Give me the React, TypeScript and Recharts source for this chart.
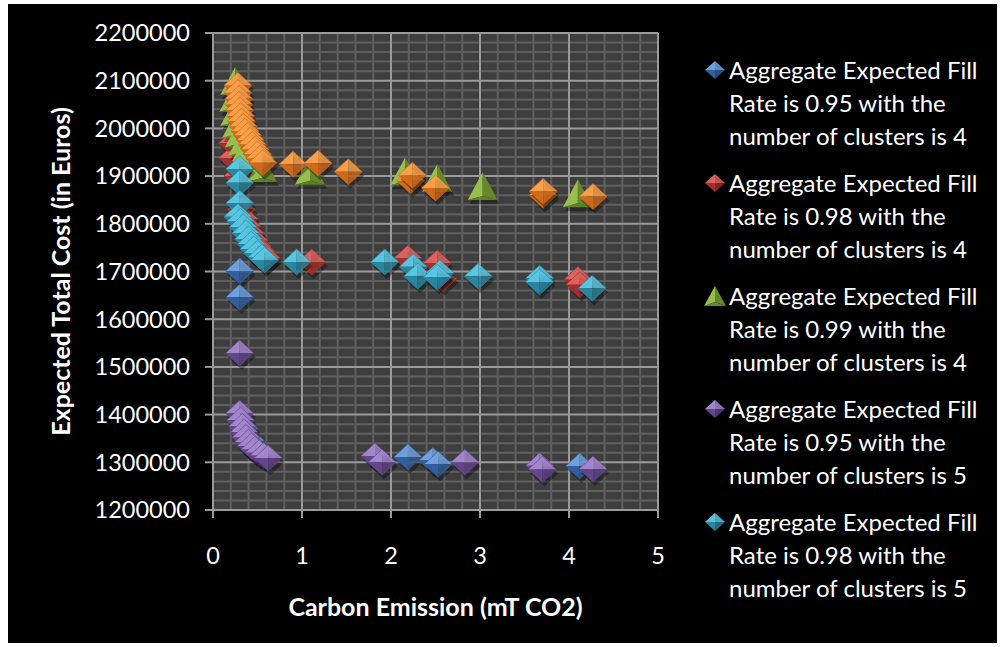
import React from "react";
import {
  CartesianGrid,
  Label,
  ReferenceLine,
  Scatter,
  ScatterChart,
  XAxis,
  YAxis,
} from "recharts";

type Pt = [number, number];

const xTicks = [0, 1, 2, 3, 4, 5];
const yTicks = [1200000, 1300000, 1400000, 1500000, 1600000, 1700000, 1800000, 1900000, 2000000, 2100000, 2200000];
const xMinor = [0.2, 0.4, 0.6, 0.8, 1.2, 1.4, 1.6, 1.8, 2.2, 2.4, 2.6, 2.8, 3.2, 3.4, 3.6, 3.8, 4.2, 4.4, 4.6, 4.8];
const yMinor = yTicks.slice(0, -1).flatMap((t) => [20000, 40000, 60000, 80000].map((d) => t + d));

const fill95c4: Pt[] = [
  [0.3, 1701000], [0.3, 1646000], [0.35, 1370000], [0.42, 1345000],
  [2.19, 1311000], [2.47, 1304000], [2.53, 1296000], [4.12, 1292000],
];
const fill98c4: Pt[] = [
  [0.22, 1969000], [0.22, 1938000], [0.28, 1900000], [0.32, 1830000], [0.35, 1810000],
  [0.38, 1795000], [0.42, 1780000], [0.46, 1765000], [0.5, 1752000], [0.55, 1740000],
  [0.6, 1728000], [1.11, 1720000], [2.19, 1728000], [2.52, 1718000], [2.58, 1685000],
  [4.1, 1683000], [4.12, 1672000],
];
const fill99c4: Pt[] = [
  [0.25, 2095000], [0.24, 2060000], [0.25, 2030000], [0.27, 2005000], [0.3, 1985000],
  [0.34, 1968000], [0.38, 1955000], [0.42, 1943000], [0.47, 1932000], [0.55, 1913000],
  [1.09, 1907000], [2.16, 1906000], [2.52, 1892000], [3.03, 1875000], [4.1, 1860000],
];
const fill95c5: Pt[] = [
  [0.3, 1529000], [0.3, 1403000], [0.31, 1388000], [0.33, 1375000], [0.35, 1363000],
  [0.37, 1352000], [0.4, 1342000], [0.43, 1334000], [0.47, 1327000], [0.52, 1320000],
  [0.57, 1314000], [0.62, 1309000], [1.82, 1313000], [1.9, 1300000], [2.83, 1300000],
  [3.67, 1293000], [3.7, 1285000], [4.27, 1286000],
];
const fill98c5: Pt[] = [
  [0.3, 1915000], [0.3, 1886000], [0.3, 1843000], [0.28, 1815000], [0.31, 1805000],
  [0.34, 1793000], [0.37, 1780000], [0.4, 1768000], [0.43, 1757000], [0.46, 1747000],
  [0.5, 1738000], [0.55, 1730000], [0.58, 1724000], [0.94, 1720000], [1.93, 1720000],
  [2.25, 1710000], [2.3, 1690000], [2.55, 1697000], [2.52, 1688000], [2.98, 1690000],
  [3.67, 1686000], [3.67, 1678000], [4.26, 1665000],
];
const fill99c5: Pt[] = [
  [0.28, 2090000], [0.28, 2075000], [0.29, 2062000], [0.29, 2050000], [0.3, 2038000],
  [0.31, 2026000], [0.32, 2015000], [0.34, 2004000], [0.36, 1994000], [0.39, 1985000],
  [0.42, 1975000], [0.44, 1966000], [0.47, 1956000], [0.5, 1946000], [0.53, 1937000],
  [0.56, 1928000], [0.9, 1925000], [1.18, 1927000], [1.52, 1909000], [2.22, 1890000],
  [2.24, 1902000], [2.5, 1875000], [3.71, 1860000], [3.71, 1868000], [4.27, 1857000],
];

const series = [
  { name: "Aggregate Expected Fill Rate is 0.95 with the number of clusters is 4", pts: fill95c4, kind: "diamond", light: "#6f9fdc", dark: "#335e9e", legend: true },
  { name: "Aggregate Expected Fill Rate is 0.98 with the number of clusters is 4", pts: fill98c4, kind: "diamond", light: "#dc625e", dark: "#a3302c", legend: true },
  { name: "Aggregate Expected Fill Rate is 0.99 with the number of clusters is 4", pts: fill99c4, kind: "triangle", light: "#98bf4c", dark: "#66882a", legend: true },
  { name: "Aggregate Expected Fill Rate is 0.95 with the number of clusters is 5", pts: fill95c5, kind: "diamond", light: "#a286cc", dark: "#62458a", legend: true },
  { name: "Aggregate Expected Fill Rate is 0.98 with the number of clusters is 5", pts: fill98c5, kind: "diamond", light: "#58c6e0", dark: "#2886a0", legend: true },
  { name: "Aggregate Expected Fill Rate is 0.99 with the number of clusters is 5", pts: fill99c5, kind: "diamond", light: "#f99f4a", dark: "#cf6a1a", legend: false },
];

const FONT = "Lato, 'Open Sans', sans-serif";
const GRID_MINOR = "#5f5f5f";
const GRID_MAJOR = "#9a9a9a";

function Diamond({ cx, cy, light, dark, w = 14, h = 13 }: any) {
  return (
    <g>
      <polygon points={`${cx + 2},${cy - h + 4} ${cx + w + 2},${cy + 4} ${cx + 2},${cy + h + 4} ${cx - w + 2},${cy + 4}`} fill="#000" opacity={0.35} />
      <polygon points={`${cx - w},${cy} ${cx},${cy - h} ${cx},${cy}`} fill={light} />
      <polygon points={`${cx},${cy - h} ${cx + w},${cy} ${cx},${cy}`} fill={light} opacity={0.85} />
      <polygon points={`${cx - w},${cy} ${cx},${cy} ${cx},${cy + h}`} fill={dark} />
      <polygon points={`${cx},${cy} ${cx + w},${cy} ${cx},${cy + h}`} fill={dark} opacity={0.8} />
      <polygon points={`${cx - w},${cy} ${cx},${cy - h} ${cx + w},${cy} ${cx},${cy + h}`} fill="none" stroke={dark} strokeWidth={0.6} />
    </g>
  );
}

function Triangle({ cx, cy, light, dark, w = 15, h = 28 }: any) {
  const top = cy - h / 2 - 2;
  const bot = cy + h / 2 - 2;
  return (
    <g>
      <polygon points={`${cx + 2},${top + 4} ${cx + w + 2},${bot + 4} ${cx - w + 2},${bot + 4}`} fill="#000" opacity={0.35} />
      <polygon points={`${cx},${top} ${cx},${bot - 4} ${cx - w},${bot}`} fill={light} />
      <polygon points={`${cx},${top} ${cx + w},${bot} ${cx},${bot - 4}`} fill={dark} />
      <polygon points={`${cx - w},${bot} ${cx},${bot - 4} ${cx + w},${bot}`} fill={dark} opacity={0.9} />
    </g>
  );
}

function makeShape(s: (typeof series)[number]) {
  return (props: any) =>
    s.kind === "triangle" ? (
      <Triangle cx={props.cx} cy={props.cy} light={s.light} dark={s.dark} />
    ) : (
      <Diamond cx={props.cx} cy={props.cy} light={s.light} dark={s.dark} />
    );
}

function LegendIcon({ s }: { s: (typeof series)[number] }) {
  return (
    <svg width={22} height={22} style={{ position: "absolute", left: 0, top: 6 }}>
      {s.kind === "triangle" ? (
        <g>
          <polygon points="11,1 11,17 0,21" fill={s.light} />
          <polygon points="11,1 22,21 11,17" fill={s.dark} />
          <polygon points="0,21 11,17 22,21" fill={s.dark} />
        </g>
      ) : (
        <g>
          <polygon points="1,11 11,2 11,11" fill={s.light} />
          <polygon points="11,2 21,11 11,11" fill={s.light} opacity={0.85} />
          <polygon points="1,11 11,11 11,20" fill={s.dark} />
          <polygon points="11,11 21,11 11,20" fill={s.dark} opacity={0.8} />
        </g>
      )}
    </svg>
  );
}

export default function App() {
  return (
    <div style={{ position: "absolute", left: 0, top: 0, width: 1001, height: 647, background: "#fff" }}>
      <div style={{ position: "absolute", left: 8, top: 4, width: 989, height: 639, background: "#000", fontFamily: FONT }}>
        <ScatterChart width={989} height={639} margin={{ top: 29, right: 339, left: 0, bottom: 0 }}>
          <CartesianGrid horizontal={false} vertical={false} fill="#3e3e3e" fillOpacity={1} />
          {xMinor.map((v) => (
            <ReferenceLine key={`xm${v}`} x={v} stroke={GRID_MINOR} strokeWidth={2} />
          ))}
          {yMinor.map((v) => (
            <ReferenceLine key={`ym${v}`} y={v} stroke={GRID_MINOR} strokeWidth={2} />
          ))}
          {xTicks.slice(1).map((v) => (
            <ReferenceLine key={`xM${v}`} x={v} stroke={GRID_MAJOR} strokeWidth={2} />
          ))}
          {yTicks.slice(1).map((v) => (
            <ReferenceLine key={`yM${v}`} y={v} stroke={GRID_MAJOR} strokeWidth={2} />
          ))}
          <XAxis
            type="number"
            dataKey="x"
            domain={[0, 5]}
            ticks={xTicks}
            height={133}
            tickSize={8}
            tickMargin={29}
            axisLine={{ stroke: GRID_MAJOR, strokeWidth: 2 }}
            tickLine={{ stroke: GRID_MAJOR, strokeWidth: 2 }}
            tick={{ fill: "#fff", fontSize: 23.5, fontFamily: FONT }}
          >
            <Label
              content={({ viewBox }: any) => (
                <text x={viewBox.x + viewBox.width / 2} y={viewBox.y + 106} textAnchor="middle" fill="#fff" fontSize={25} fontWeight="bold" fontFamily={FONT}>
                  Carbon Emission (mT CO2)
                </text>
              )}
            />
          </XAxis>
          <YAxis
            type="number"
            dataKey="y"
            domain={[1200000, 2200000]}
            ticks={yTicks}
            width={205}
            tickSize={8}
            tickMargin={15}
            axisLine={{ stroke: GRID_MAJOR, strokeWidth: 2 }}
            tickLine={{ stroke: GRID_MAJOR, strokeWidth: 2 }}
            tick={{ fill: "#fff", fontSize: 23.5, fontFamily: FONT }}
          >
            <Label
              content={({ viewBox }: any) => {
                const cx = viewBox.x + 52;
                const cy = viewBox.y + viewBox.height / 2;
                return (
                  <text x={cx} y={cy} transform={`rotate(-90, ${cx}, ${cy})`} textAnchor="middle" dominantBaseline="central" fill="#fff" fontSize={25} fontWeight="bold" fontFamily={FONT}>
                    Expected Total Cost (in Euros)
                  </text>
                );
              }}
            />
          </YAxis>
          {series.map((s) => (
            <Scatter
              key={s.name}
              name={s.name}
              data={s.pts.map(([x, y]) => ({ x, y }))}
              shape={makeShape(s)}
              isAnimationActive={false}
            />
          ))}
        </ScatterChart>
        {series
          .filter((s) => s.legend)
          .map((s, i) => (
            <div
              key={s.name}
              style={{
                position: "absolute",
                left: 696,
                top: 49 + i * 113,
                width: 293,
                paddingLeft: 25,
                boxSizing: "border-box",
                color: "#fff",
                fontSize: 24,
                lineHeight: "33px",
              }}
            >
              <LegendIcon s={s} />
              {s.name}
            </div>
          ))}
      </div>
    </div>
  );
}
